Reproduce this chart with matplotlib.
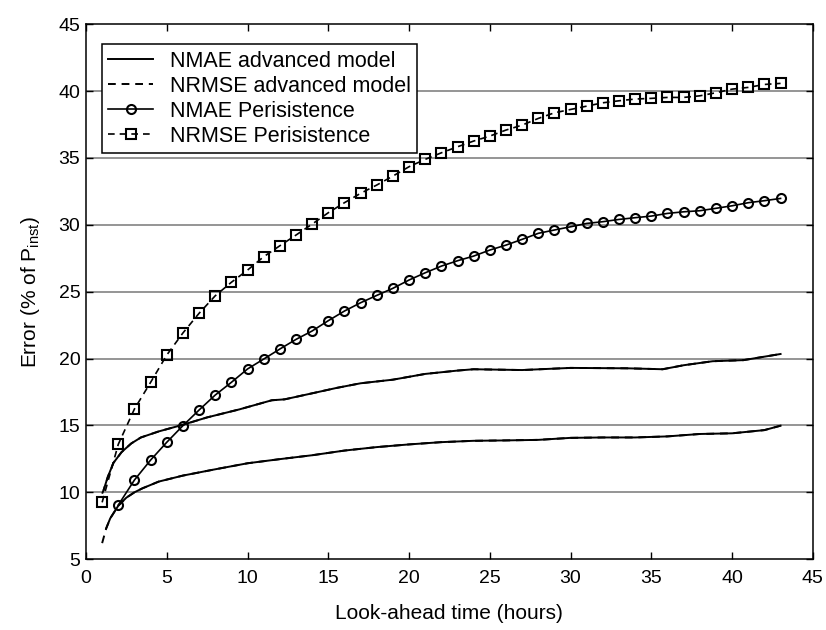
import matplotlib
matplotlib.use("Agg")
import matplotlib.pyplot as plt

plt.rcParams['font.family'] = ['Liberation Sans', 'DejaVu Sans']
plt.rcParams['mathtext.fontset'] = 'custom'
plt.rcParams['mathtext.rm'] = 'Liberation Sans'
plt.rcParams['mathtext.it'] = 'Liberation Sans:italic'

# Advanced model curves (lower / upper)
adv_low_x = [1.0, 1.25, 1.5, 2.0, 2.5, 3.0, 3.5, 4.5, 6, 8, 10, 12, 14, 16, 18, 20, 22, 24,
             26, 28, 30, 32, 34, 36, 38, 40, 42, 43]
adv_low_y = [6.2, 7.3, 8.05, 9.0, 9.6, 10.0, 10.3, 10.8, 11.25, 11.72, 12.17, 12.48, 12.77,
             13.12, 13.38, 13.58, 13.75, 13.85, 13.88, 13.92, 14.07, 14.1, 14.1, 14.18, 14.36,
             14.41, 14.65, 14.98]
adv_high_x = [1.0, 1.1, 1.35, 1.7, 2.2, 2.8, 3.4, 4.5, 6, 7.5, 9.5, 11.5, 12.3, 14, 15.5, 17,
              19, 21, 23, 24, 27, 30, 33.5, 35.7, 37, 38.8, 40.7, 43]
adv_high_y = [9.9, 10.2, 11.15, 12.2, 13.0, 13.65, 14.1, 14.55, 15.05, 15.6, 16.2, 16.88,
              16.95, 17.4, 17.8, 18.15, 18.42, 18.85, 19.1, 19.2, 19.14, 19.3, 19.27, 19.2,
              19.5, 19.8, 19.88, 20.34]

# Persistence
nmae_pers_x = list(range(2, 44))
nmae_pers_y = [9.05, 10.92, 12.41, 13.74, 14.98, 16.15, 17.27, 18.22, 19.22, 19.96, 20.71,
               21.43, 22.06, 22.83, 23.55, 24.17, 24.72, 25.25, 25.87, 26.41, 26.91, 27.31,
               27.66, 28.11, 28.48, 28.91, 29.36, 29.61, 29.85, 30.1, 30.23, 30.4, 30.53,
               30.65, 30.85, 30.97, 31.05, 31.23, 31.42, 31.65, 31.8, 31.97]
nrmse_pers_x = list(range(1, 44))
nrmse_pers_y = [9.25, 13.59, 16.23, 18.22, 20.26, 21.91, 23.38, 24.69, 25.7, 26.61, 27.61,
                28.43, 29.23, 30.05, 30.9, 31.65, 32.35, 32.97, 33.64, 34.34, 34.89, 35.38,
                35.83, 36.26, 36.63, 37.08, 37.45, 37.95, 38.37, 38.62, 38.87, 39.12, 39.27,
                39.4, 39.45, 39.52, 39.52, 39.64, 39.87, 40.14, 40.27, 40.49, 40.57]

labels = ['NMAE advanced model', 'NRMSE advanced model',
          'NMAE Perisistence', 'NRMSE Perisistence']
x_ticks = list(range(0, 46, 5))
y_ticks = list(range(5, 46, 5))

fig = plt.figure(figsize=(8.26, 6.30), dpi=100)
ax = fig.add_axes([0.1041, 0.1124, 0.8800, 0.8493])

for y in y_ticks[1:-1]:
    ax.axhline(y, color='#8c8c8c', lw=1.3, zorder=1)

dash = (0, (4, 3))
lw = 1.4
ax.plot(adv_low_x[1:], adv_low_y[1:], color='black', lw=lw, ls='-', label=labels[0], zorder=3)
ax.plot(adv_high_x, adv_high_y, color='black', lw=lw, ls=dash, label=labels[1], zorder=3)
ax.plot(adv_high_x[1:], adv_high_y[1:], color='black', lw=lw, ls='-', zorder=3)
ax.plot(adv_low_x, adv_low_y, color='black', lw=lw, ls=dash, zorder=3)

ax.plot(nmae_pers_x, nmae_pers_y, color='black', lw=1.2, ls='-', marker='o', ms=6.5,
        mfc='none', mec='black', mew=1.5, label=labels[2], zorder=4)
ax.plot(nrmse_pers_x, nrmse_pers_y, color='black', lw=1.2, ls=dash, marker='s', ms=6.5,
        mfc='none', mec='black', mew=1.5, label=labels[3], zorder=4)

ax.set_xlim(0, 45)
ax.set_ylim(5, 45)
ax.set_xticks(x_ticks)
ax.set_yticks(y_ticks)
ax.tick_params(direction='in', top=True, right=True, length=5, width=1, labelsize=14)
ax.tick_params(axis='x', pad=8)
ax.tick_params(axis='y', pad=4)
for s in ax.spines.values():
    s.set_linewidth(1.1)

ax.set_xlabel('Look-ahead time (hours)', fontsize=15, labelpad=12)
ax.set_ylabel(r'Error (% of P$_{\mathrm{inst}}$)', fontsize=15, labelpad=12)

leg = ax.legend(loc='upper left', bbox_to_anchor=(0.022, 0.962), borderaxespad=0,
                fancybox=False, framealpha=1, edgecolor='black', fontsize=15.5,
                handlelength=2.05, labelspacing=0.18, borderpad=0.3, handletextpad=0.8)
leg.get_frame().set_linewidth(1.1)

fig.savefig('out.png', dpi=100)
